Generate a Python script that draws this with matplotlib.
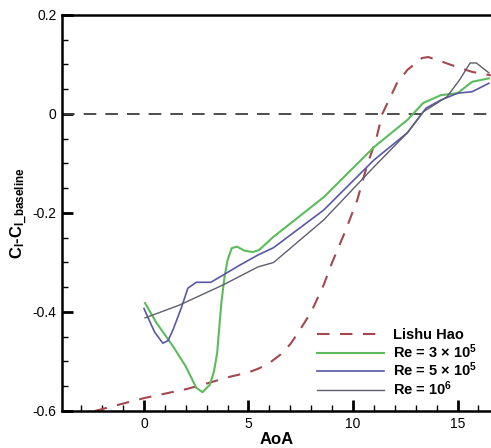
import matplotlib
matplotlib.use('Agg')
import matplotlib.pyplot as plt
from matplotlib.ticker import MultipleLocator

plt.rcParams['font.family'] = ['Liberation Sans', 'DejaVu Sans']
plt.rcParams['mathtext.fontset'] = 'custom'
plt.rcParams['mathtext.rm'] = 'Liberation Sans:bold'
plt.rcParams['mathtext.it'] = 'Liberation Sans:bold'
plt.rcParams['mathtext.bf'] = 'Liberation Sans:bold'
plt.rcParams['mathtext.default'] = 'rm'

# Lishu Hao reference
hao_x = [-2.35, -1, 0, 1, 2, 2.8, 4, 5, 5.5, 6, 6.5, 7, 7.4, 8.0, 8.6, 9.0,
         9.6, 10.2, 10.7, 11.1, 11.4, 12.1, 12.6, 13.3, 13.6, 14.3, 15.1,
         15.7, 16.6]
hao_y = [-0.6, -0.585, -0.574, -0.565, -0.556, -0.547, -0.532, -0.522, -0.514,
         -0.503, -0.487, -0.465, -0.44, -0.40, -0.345, -0.30, -0.24, -0.174,
         -0.10, -0.052, 0.0, 0.062, 0.089, 0.113, 0.115, 0.105, 0.093, 0.085,
         0.078]

# Re = 3e5
re3_x = [0.05, 0.6, 1.4, 2.0, 2.5, 2.8, 3.15, 3.35, 3.5, 3.7, 3.85, 4.0, 4.2,
         4.45, 4.8, 5.2, 5.5, 6.2, 8.6, 11.0, 12.6, 13.35, 14.2, 15.0, 15.7,
         16.5]
re3_y = [-0.382, -0.422, -0.47, -0.51, -0.553, -0.562, -0.547, -0.52, -0.483,
         -0.382, -0.33, -0.295, -0.271, -0.268, -0.276, -0.279, -0.275, -0.248,
         -0.168, -0.067, -0.012, 0.022, 0.038, 0.042, 0.065, 0.072]

# Re = 5e5
re5_x = [0, 0.5, 0.9, 1.15, 1.4, 1.8, 2.1, 2.5, 3.2, 3.8, 4.6, 5.45, 6.2, 8.6,
         11.0, 12.6, 13.5, 14.2, 15.0, 15.7, 16.5]
re5_y = [-0.393, -0.44, -0.463, -0.458, -0.435, -0.39, -0.352, -0.34, -0.34,
         -0.325, -0.305, -0.285, -0.27, -0.194, -0.093, -0.038, 0.012, 0.028,
         0.042, 0.045, 0.062]

# Re = 1e6
re6_x = [0.05, 1.7, 3.8, 5.45, 6.2, 8.6, 11.0, 12.6, 13.35, 14.5, 15.1, 15.6,
         15.9, 16.5]
re6_y = [-0.412, -0.386, -0.345, -0.309, -0.30, -0.214, -0.107, -0.038, 0.004,
         0.035, 0.069, 0.103, 0.103, 0.083]

fig = plt.figure(figsize=(4.91, 4.48), dpi=100)
ax = fig.add_axes([0.1263, 0.0826, 0.8737, 0.884])

ax.axhline(0, color='#404040', lw=1.3, dashes=(7, 5))
ax.plot(hao_x, hao_y, color='#a5474f', lw=1.5, dashes=(6, 5), label='Lishu Hao')
ax.plot(re3_x, re3_y, color='#5cbb5c', lw=1.5, label=r'Re = 3 $\times$ 10$^5$')
ax.plot(re5_x, re5_y, color='#5858a6', lw=1.2, label=r'Re = 5 $\times$ 10$^5$')
ax.plot(re6_x, re6_y, color='#5e5e6e', lw=1.0, label=r'Re = 10$^6$')

ax.set_xlim(-3.92, 16.6)
ax.set_ylim(-0.6, 0.2)
ax.xaxis.set_major_locator(MultipleLocator(5))
ax.xaxis.set_minor_locator(MultipleLocator(1))
ax.yaxis.set_major_locator(MultipleLocator(0.2))
ax.yaxis.set_minor_locator(MultipleLocator(0.05))
ax.yaxis.set_major_formatter(plt.FuncFormatter(lambda v, p: '0' if abs(v) < 1e-9 else f'{v:.1f}'))

ax.tick_params(which='major', direction='in', length=8, width=2, labelsize=10, pad=4)
ax.tick_params(which='minor', direction='in', length=4, width=1)
ax.tick_params(top=False, right=False)
ax.spines['right'].set_visible(False)
for s in ['left', 'bottom', 'top']:
    ax.spines[s].set_linewidth(1.8)

ax.set_xlabel('AoA', fontsize=12, fontweight='bold', labelpad=1)
ax.set_ylabel(r'C$_l$-C$_{l\_baseline}$', fontsize=12, fontweight='bold', labelpad=2)

ax.legend(loc='lower right', bbox_to_anchor=(0.997, 0.0), frameon=False,
          handlelength=4.6, handletextpad=0.6, labelspacing=0.0,
          prop={'weight': 'bold', 'size': 10.5})

fig.savefig('out.png', dpi=100)
